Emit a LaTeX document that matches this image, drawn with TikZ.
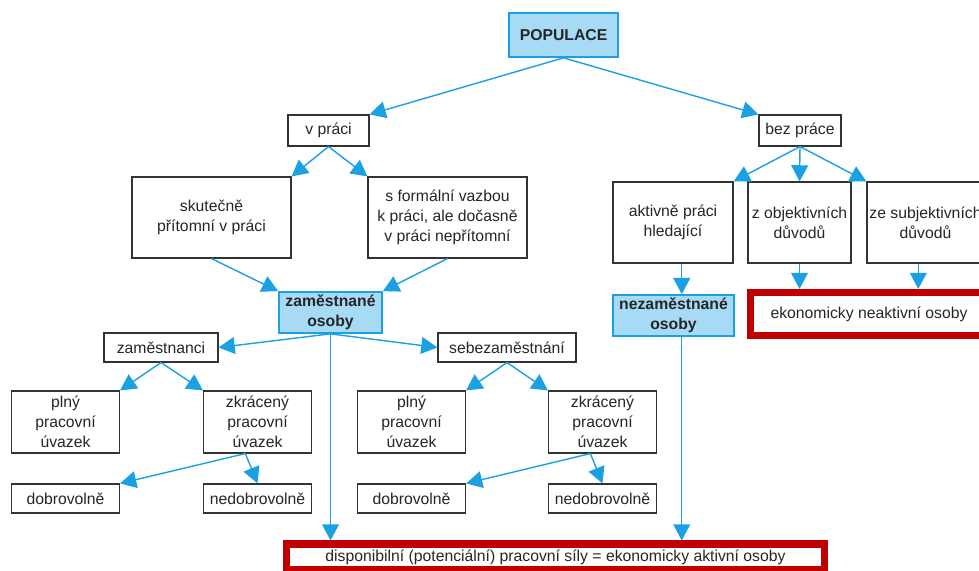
\documentclass[tikz,border=0pt]{standalone}
\usepackage{fontspec}
\setmainfont{Liberation Sans}
\usetikzlibrary{arrows.meta}
\definecolor{arrblue}{RGB}{27,161,226}
\definecolor{boxblue}{RGB}{166,218,245}
\definecolor{darkred}{RGB}{192,0,0}

\begin{document}
\begin{tikzpicture}[x=0.025cm, y=-0.025cm,
    every node/.style={font=\fontsize{11.2}{14.2}\selectfont, text=black!85, align=center, inner sep=0pt},
    box/.style={draw=black!80, line width=0.8pt, fill=white},
    bluebox/.style={draw=arrblue, line width=1.2pt, fill=boxblue, font=\fontsize{11.2}{14.2}\selectfont\bfseries},
    redbox/.style={draw=darkred, line width=5pt, fill=white},
    arr/.style={arrblue, line width=1pt, -{Triangle[length=11.5pt, width=12pt]}}]
    \useasboundingbox (0,0) rectangle (979,571);
    \clip (0,0) rectangle (979,571);
    \node[bluebox, minimum width=2.725cm, minimum height=1.1cm] (popul) at (563.5,35) {POPULACE};
    \node[box, minimum width=2.025cm, minimum height=0.775cm] (vprac) at (328.5,130.5) {v práci};
    \node[box, minimum width=2.05cm, minimum height=0.775cm] (bezpr) at (800,130.5) {bez práce};
    % v praci
    \node[box, minimum width=3.975cm, minimum height=2.025cm] (skut) at (211.5,217.5) {skutečně\\přítomní v práci};
    \node[box, minimum width=3.975cm, minimum height=2.025cm] (sform) at (447.5,217.5) {s formální vazbou\\k práci, ale dočasně\\v práci nepřítomní};
    \node[bluebox, minimum width=2.575cm, minimum height=1.025cm] (zamos) at (330.5,312.5) {zaměstnané\\osoby};
    \node[box, minimum width=2.85cm, minimum height=0.725cm] (zamci) at (161,347.5) {zaměstnanci};
    \node[box, minimum width=3.45cm, minimum height=0.725cm] (sebez) at (507,347.5) {sebezaměstnání};
    \node[box, minimum width=2.7cm, minimum height=1.55cm] (plnyA) at (65.5,422) {plný\\pracovní\\úvazek};
    \node[box, minimum width=2.7cm, minimum height=1.55cm] (zkrA) at (257.5,422) {zkrácený\\pracovní\\úvazek};
    \node[box, minimum width=2.7cm, minimum height=0.725cm] (dobA) at (65.5,498.5) {dobrovolně};
    \node[box, minimum width=2.7cm, minimum height=0.725cm] (nedobA) at (257.5,498.5) {nedobrovolně};
    \node[box, minimum width=2.7cm, minimum height=1.55cm] (plnyB) at (411.5,422) {plný\\pracovní\\úvazek};
    \node[box, minimum width=2.7cm, minimum height=1.55cm] (zkrB) at (602.5,422) {zkrácený\\pracovní\\úvazek};
    \node[box, minimum width=2.7cm, minimum height=0.725cm] (dobB) at (411.5,498.5) {dobrovolně};
    \node[box, minimum width=2.7cm, minimum height=0.725cm] (nedobB) at (602.5,498.5) {nedobrovolně};
    % bez prace
    \node[box, minimum width=3.0cm, minimum height=2.025cm] (aktiv) at (673,222.5) {aktivně práci\\hledající};
    \node[box, minimum width=2.575cm, minimum height=2.025cm] (zobj) at (799.5,222.5) {z objektivních\\důvodů};
    \node[box, minimum width=2.925cm, minimum height=2.025cm] (zsubj) at (925.5,222.5) {ze subjektivních\\důvodů};
    \node[bluebox, minimum width=3.025cm, minimum height=1.025cm] (nezam) at (673.5,315.5) {nezaměstnané\\osoby};
    \node[redbox, minimum width=5.925cm, minimum height=1.075cm] (eknea) at (869,314) {ekonomicky neaktivní osoby};
    \node[redbox, minimum width=13.45cm, minimum height=0.65cm] (dispon) at (555.5,557) {disponibilní (potenciální) pracovní síly = ekonomicky aktivní osoby};
    \draw[arr] (popul.south) -- (vprac.north east);
    \draw[arr] (popul.south) -- (bezpr.north west);
    \draw[arr] (vprac.south) -- (skut.north east);
    \draw[arr] (vprac.south) -- (sform.north west);
    \draw[arr] (skut.south) -- (zamos.north west);
    \draw[arr] (sform.south) -- (zamos.north east);
    \draw[arr] (zamos.south) -- (zamci.east);
    \draw[arr] (zamos.south) -- (sebez.west);
    \draw[arr] (zamos.south) -- (zamos.south |- dispon.north);
    \draw[arr] (zamci.south) -- (plnyA.north east);
    \draw[arr] (zamci.south) -- (zkrA.north west);
    \draw[arr] (zkrA.249) -- (dobA.north east);
    \draw[arr] (zkrA.249) -- (nedobA.north);
    \draw[arr] (sebez.south) -- (plnyB.north east);
    \draw[arr] (sebez.south) -- (zkrB.north west);
    \draw[arr] (zkrB.249) -- (dobB.north east);
    \draw[arr] (zkrB.249) -- (nedobB.north);
    \draw[arr] (bezpr.south) -- (aktiv.north east);
    \draw[arr] (bezpr.south) -- (zobj.north);
    \draw[arr] (bezpr.south) -- (zsubj.north west);
    \draw[arr] (aktiv.282) -- (aktiv.282 |- nezam.north);
    \draw[arr] (zobj.south) -- (zobj.south |- eknea.north);
    \draw[arr] (zsubj.260) -- (zsubj.260 |- eknea.north);
    \draw[arr] (nezam.south -| aktiv.282) -- (aktiv.282 |- dispon.north);
\end{tikzpicture}
\end{document}
